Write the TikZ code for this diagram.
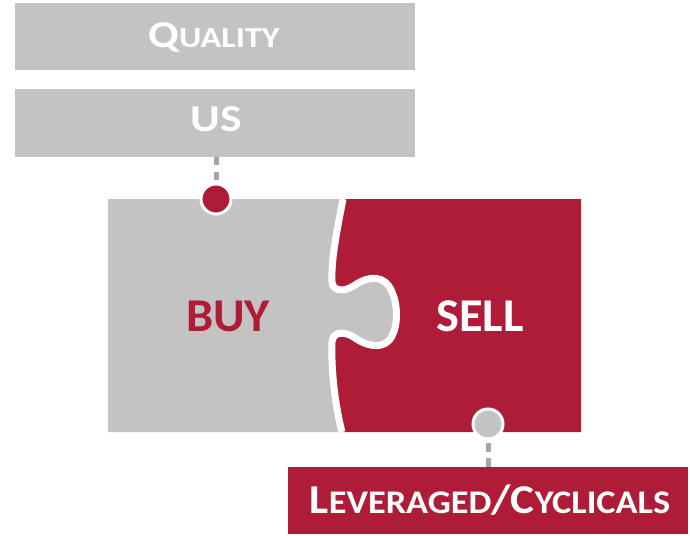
\documentclass[tikz,border=0pt]{standalone}
\usepackage{fontspec}
\usepackage{graphicx}
\setmainfont{Carlito}
\definecolor{pzred}{HTML}{AE1C37}
\definecolor{pzgray}{HTML}{C3C3C3}
\definecolor{dashgray}{HTML}{A6A6A6}
\begin{document}
\begin{tikzpicture}[x=1pt,y=-1pt,
  box/.style={rectangle, minimum width=400pt, minimum height=67pt, inner sep=0pt, draw=none},
  lbl/.style={anchor=base, inner sep=0pt, font=\bfseries},
  dot/.style={circle, minimum size=30pt, inner sep=0pt, draw=white, line width=3pt},
  link/.style={draw=dashgray, line width=5pt, dash pattern=on 8pt off 7pt}]
\useasboundingbox (0,0) rectangle (690,535);
% boxes
\node[box, fill=pzgray] (qbox) at (215,36.5) {};
\node[box, fill=pzgray, minimum height=68pt] (usbox) at (215,123) {};
\node[box, fill=pzred] (levbox) at (488,500.5) {};
% puzzle pieces
\def\pzedge{(343,199) .. controls (337,230) and (331,260) .. (332,282)
  .. controls (333,292) and (345,292) .. (355,285)
  .. controls (368,276) and (385,274) .. (392,292)
  .. controls (398,305) and (398,325) .. (392,336)
  .. controls (385,350) and (368,347) .. (355,338)
  .. controls (345,331) and (333,331) .. (332,342)
  .. controls (331,370) and (335,405) .. (342,432)}
\fill[pzred] \pzedge -- (581,432) -- (581,199) -- cycle;
\fill[pzgray] \pzedge -- (108,432) -- (108,199) -- cycle;
\draw[white, line width=7pt] \pzedge;
% labels
\node[lbl, text=white] (qtxt) at (214,48) {\scalebox{1.18}[1]{{\fontsize{38}{38}\selectfont Q}{\fontsize{29}{29}\selectfont UALITY}}};
\node[lbl, text=white, font=\bfseries\fontsize{38}{38}\selectfont] (ustxt) at (216,131) {\scalebox{1.2}[1]{US}};
\node[lbl, text=pzred, font=\bfseries\fontsize{47}{47}\selectfont] (buy) at (228,331) {\scalebox{1.03}[1]{BUY}};
\node[lbl, text=white, font=\bfseries\fontsize{47}{47}\selectfont] (sell) at (480,331) {\scalebox{1.03}[1]{SELL}};
\node[lbl, text=white] (levtxt) at (490,513) {\scalebox{1.1}[1]{{\fontsize{41}{41}\selectfont L}{\fontsize{33}{33}\selectfont EVERAGED}{\fontsize{41}{41}\selectfont /C}{\fontsize{33}{33}\selectfont YCLICALS}}};
% dots and links
\node[dot, fill=pzred] (topdot) at (216,199) {};
\node[dot, fill=pzgray] (botdot) at (488,424) {};
\draw[link] (usbox.south -| topdot) -- (topdot.north);
\draw[link, dash pattern=on 9pt off 6pt] (levbox.north) -- (botdot.south);
\end{tikzpicture}
\end{document}
